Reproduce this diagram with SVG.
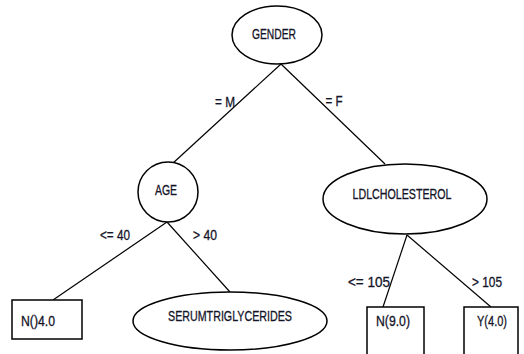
<svg xmlns="http://www.w3.org/2000/svg" width="524" height="354" viewBox="0 0 524 354">
<style>
.n{fill:#fff;stroke:#000;stroke-width:1.5}
.e{stroke:#000;stroke-width:1.2;fill:none}
text{font-family:"Liberation Sans",Arial,sans-serif;font-size:14px;fill:#141428;stroke:#141428;stroke-width:0.3;text-anchor:middle}
</style>
<rect width="524" height="354" fill="#fff"/>
<g id="edges">
<line class="e" x1="281" y1="64" x2="172" y2="164"/>
<line class="e" x1="281" y1="64" x2="385" y2="164"/>
<line class="e" x1="167" y1="222" x2="53" y2="300"/>
<line class="e" x1="167" y1="222" x2="230" y2="292"/>
<line class="e" x1="407" y1="235" x2="383" y2="307"/>
<line class="e" x1="407" y1="235" x2="491" y2="307"/>
<text x="225" y="107" textLength="20" lengthAdjust="spacingAndGlyphs">= M</text>
<text x="334" y="106" textLength="17" lengthAdjust="spacingAndGlyphs">= F</text>
<text x="115" y="240" textLength="30" lengthAdjust="spacingAndGlyphs">&lt;= 40</text>
<text x="205" y="240" textLength="24" lengthAdjust="spacingAndGlyphs">&gt; 40</text>
<text x="369" y="287" textLength="42" lengthAdjust="spacingAndGlyphs">&lt;= 105</text>
<text x="487" y="287" textLength="30" lengthAdjust="spacingAndGlyphs">&gt; 105</text>
</g>
<g id="gender">
<ellipse class="n" cx="277" cy="35" rx="45" ry="29"/>
<text x="274" y="39" textLength="44" lengthAdjust="spacingAndGlyphs">GENDER</text>
</g>
<g id="age">
<circle class="n" cx="168" cy="192" r="30"/>
<text x="166" y="195" textLength="22" lengthAdjust="spacingAndGlyphs">AGE</text>
</g>
<g id="ldl">
<ellipse class="n" cx="405" cy="199" rx="82" ry="35"/>
<text x="402" y="199" textLength="99" lengthAdjust="spacingAndGlyphs">LDLCHOLESTEROL</text>
</g>
<g id="n40">
<rect class="n" x="12" y="300" width="70" height="39"/>
<text x="38" y="326" textLength="34" lengthAdjust="spacingAndGlyphs">N()4.0</text>
</g>
<g id="serum">
<ellipse class="n" cx="230" cy="321" rx="97" ry="29"/>
<text x="230" y="321" textLength="124" lengthAdjust="spacingAndGlyphs">SERUMTRIGLYCERIDES</text>
</g>
<g id="n90">
<rect class="n" x="367" y="307" width="57" height="60"/>
<text x="393" y="326" textLength="34" lengthAdjust="spacingAndGlyphs">N(9.0)</text>
</g>
<g id="y40">
<rect class="n" x="464" y="307" width="54" height="60"/>
<text x="492" y="326" textLength="30" lengthAdjust="spacingAndGlyphs">Y(4.0)</text>
</g>
</svg>
